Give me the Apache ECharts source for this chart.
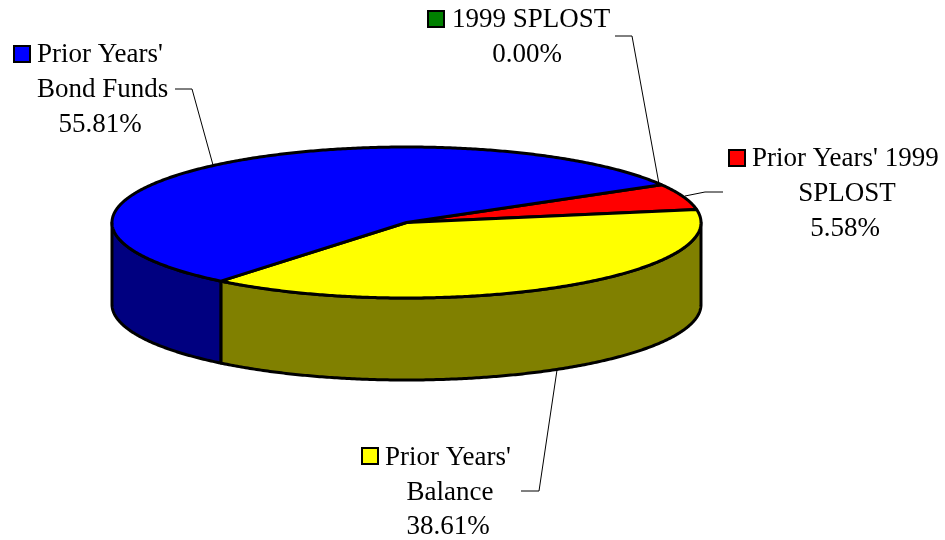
<!DOCTYPE html>
<html>
<head>
<meta charset="utf-8">
<title>Fund sources</title>
<style>
  html, body { margin: 0; padding: 0; background: #fff; }
  #chart { width: 945px; height: 540px; }
</style>
<script src="https://cdn.jsdelivr.net/npm/echarts@6/dist/echarts.min.js"></script>
</head>
<body>
<div id="chart"></div>
<script>
// slices in clockwise order, starting from the 1999 SPLOST leader
const sliceNames = ['1999 SPLOST', "Prior Years' 1999 SPLOST", "Prior Years' Balance", "Prior Years' Bond Funds"]
const sliceValues = [0.00, 5.58, 38.61, 55.81]
const topColors = ['#008000', '#ff0000', '#ffff00', '#0000ff']
const wallColors = ['#004000', '#800000', '#808000', '#000080']

// pie geometry
const CX = 406.5, CY = 222.5, RX = 294.5, RY = 75.5, DEPTH = 82
const START_ANGLE = 60 // degrees clockwise from the top of the ellipse

const chart = echarts.init(document.getElementById('chart'))

const total = sliceValues.reduce((a, b) => a + b, 0)
const sliceRange = (index) => {
	let from = START_ANGLE
	for (let i = 0; i < index; i++) from += sliceValues[i] / total * 360
	return [from, from + sliceValues[index] / total * 360]
}

const rimPoint = (deg, dy) => {
	const r = deg * Math.PI / 180
	return [CX + RX * Math.sin(r), CY - RY * Math.cos(r) + dy]
}

const arcPoints = (from, to, dy) => {
	const pts = []
	const steps = Math.max(1, Math.ceil((to - from) * 2))
	for (let i = 0; i <= steps; i++) pts.push(rimPoint(from + (to - from) * i / steps, dy))
	return pts
}

// top face of one slice
const renderTop = (params) => {
	const [from, to] = sliceRange(params.dataIndex)
	if (to - from <= 0) return { type: 'group', children: [] }
	return {
		type: 'polygon',
		shape: { points: [[CX, CY]].concat(arcPoints(from, to, 0)) },
		style: { fill: topColors[params.dataIndex], stroke: '#000', lineWidth: 3, lineJoin: 'round' }
	}
}

// outer wall: only the part of the rim that faces the viewer (90..270 degrees)
const renderWall = (params) => {
	const [from, to] = sliceRange(params.dataIndex)
	const a = Math.max(from, 90), b = Math.min(to, 270)
	if (b <= a) return { type: 'group', children: [] }
	return {
		type: 'polygon',
		shape: { points: arcPoints(a, b, 0).concat(arcPoints(a, b, DEPTH).reverse()) },
		style: { fill: wallColors[params.dataIndex], stroke: '#000', lineWidth: 3, lineJoin: 'round' }
	}
}

const textStyle = { fill: '#000', font: '27px "Liberation Serif", "Times New Roman", serif', textVerticalAlign: 'middle' }

const labelText = (x, y, text, align) => ({
	type: 'text',
	x, y,
	style: Object.assign({}, textStyle, { text, textAlign: align })
})

const legendKey = (x, y, index) => ({
	type: 'rect',
	shape: { x, y, width: 16, height: 16 },
	style: { fill: topColors[index], stroke: '#000', lineWidth: 2 }
})

const leader = (points) => ({
	type: 'polyline',
	shape: { points },
	style: { fill: null, stroke: '#000', lineWidth: 1 }
})

const pct = (index) => sliceValues[index].toFixed(2) + '%'

const options = {
	animation: false,
	backgroundColor: '#fff',
	series: [
		{
			type: 'custom',
			coordinateSystem: 'none',
			silent: true,
			z: 1,
			data: sliceValues,
			renderItem: renderWall
		},
		{
			type: 'custom',
			coordinateSystem: 'none',
			silent: true,
			z: 2,
			data: sliceValues,
			renderItem: renderTop
		}
	],
	graphic: [
		// 1999 SPLOST
		legendKey(428, 11, 0),
		labelText(452, 20, sliceNames[0], 'left'),
		labelText(527, 55, pct(0), 'center'),
		leader([[659, 184], [632, 36], [615, 36]]),
		// Prior Years' 1999 SPLOST
		legendKey(729, 150, 1),
		labelText(752, 159, "Prior Years' 1999", 'left'),
		labelText(847, 194, 'SPLOST', 'center'),
		labelText(845, 229, pct(1), 'center'),
		leader([[685, 196], [705, 192], [723, 192]]),
		// Prior Years' Balance
		legendKey(362, 448, 2),
		labelText(385, 458, "Prior Years'", 'left'),
		labelText(450, 493, 'Balance', 'center'),
		labelText(448, 527, pct(2), 'center'),
		leader([[557, 370], [539, 491], [521, 491]]),
		// Prior Years' Bond Funds
		legendKey(14, 46, 3),
		labelText(37, 55, "Prior Years'", 'left'),
		labelText(37, 90, 'Bond Funds', 'left'),
		labelText(100, 125, pct(3), 'center'),
		leader([[213, 165], [192, 89], [175, 89]])
	]
}

chart.setOption(options)
</script>
</body>
</html>
